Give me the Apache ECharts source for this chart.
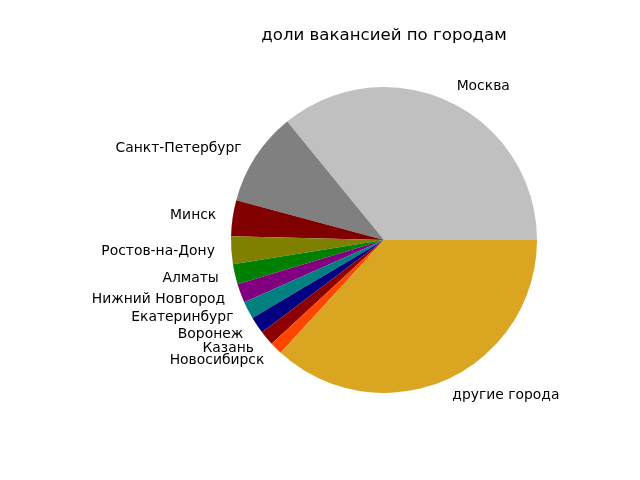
<!DOCTYPE html>
<html>
<head>
<meta charset="utf-8">
<script src="https://cdn.jsdelivr.net/npm/echarts@6/dist/echarts.min.js"></script>
<style>
  html, body { margin: 0; padding: 0; background: #fff; }
  #chart { width: 640px; height: 480px; }
</style>
</head>
<body>
<div id="chart"></div>
<script>
// города и их доли (%)
const cities = [
    'Москва', 'Санкт-Петербург', 'Минск', 'Ростов-на-Дону', 'Алматы',
    'Нижний Новгород', 'Екатеринбург', 'Воронеж', 'Казань', 'Новосибирск',
    'другие города'
];
const shares = [35.9, 9.92, 3.78, 2.92, 2.14, 2.0, 1.86, 1.78, 1.56, 1.33, 36.8];
const colors = [
    '#c0c0c0', '#808080', '#800000', '#808000', '#008000',
    '#800080', '#008080', '#000080', '#8b0000', '#ff4500', '#daa520'
];

var myChart = echarts.init(document.getElementById('chart'));

var option = {
    backgroundColor: '#ffffff',
    animation: false,
    title: {
        text: 'доли вакансией по городам',
        left: 379,
        top: 22,
        textAlign: 'center',
        textStyle: {
            fontFamily: 'DejaVu Sans',
            fontSize: 16.6,
            fontWeight: 'normal',
            color: '#000'
        }
    },
    series: [{
        type: 'pie',
        center: [384, 240],
        radius: 153,
        startAngle: 0,
        clockwise: false,
        avoidLabelOverlap: false,
        itemStyle: { borderWidth: 0 },
        label: {
            show: true,
            position: 'outside',
            distanceToLabelLine: 0,
            fontFamily: 'DejaVu Sans',
            fontSize: 13.9,
            color: '#000'
        },
        labelLine: { show: false, length: 16.5, length2: 0 },
        labelLayout: { hideOverlap: false },
        emphasis: { disabled: true },
        data: cities.map((name, i) => ({
            name: name,
            value: shares[i],
            itemStyle: { color: colors[i] }
        }))
    }]
};

myChart.setOption(option);
</script>
</body>
</html>
